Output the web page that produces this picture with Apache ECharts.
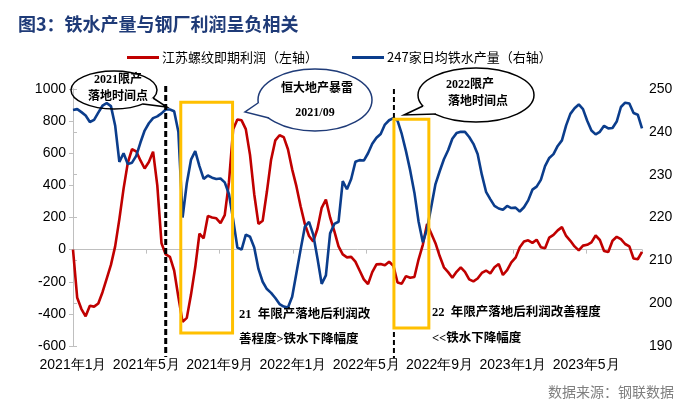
<!DOCTYPE html>
<html><head><meta charset="utf-8">
<script src="https://cdn.jsdelivr.net/npm/echarts@6/dist/echarts.min.js"></script>
<style>html,body{margin:0;padding:0;background:#fff}#c{width:689px;height:414px}</style>
</head><body><div id="c"></div>
<script>
// ---- data (weekly, starting 2021-01-01) ----
const startDate = '2021-01-01';
const seriesNames = ['江苏螺纹即期利润（左轴）', '247家日均铁水产量（右轴）'];
const tickLabels = ['2021年1月','2021年5月','2021年9月','2022年1月','2022年5月','2022年9月','2023年1月','2023年5月'];
const profit = [0,-300,-370,-415,-350,-355,-335,-265,-180,-95,
 20,190,380,540,625,612,555,505,545,610,
 400,40,-30,-45,-130,-295,-450,-425,-280,-110,
 100,70,210,200,195,165,215,420,750,810,
 805,750,590,345,160,180,360,560,680,712,
 700,625,500,395,270,160,85,50,130,260,
 312,200,115,20,-30,-48,-45,-75,-130,-185,
 -215,-140,-92,-90,-98,-76,-100,-205,-212,-165,
 -175,-170,-60,30,160,100,40,-40,-110,-140,
 -175,-138,-110,-138,-185,-198,-180,-145,-130,-148,
 -110,-90,-158,-128,-80,-50,15,50,58,42,
 62,15,8,75,92,120,140,85,55,20,
 -5,25,30,45,88,60,-8,-15,55,80,
 65,35,20,-55,-60,-14];
const hotMetal = [245.1,245.3,244.6,243.8,242.3,242.8,244.5,246.1,246.7,246.0,
 241.5,233.0,235.0,232.5,232.8,234.4,237.5,240.3,242.0,243.2,
 243.6,244.3,245.2,245.2,244.8,240.0,220.0,228.0,233.5,235.5,
 232.0,229.0,229.8,229.3,229.0,229.1,228.2,225.5,219.5,213.0,
 212.5,216.0,215.5,213.0,208.0,205.0,203.3,202.4,201.2,199.8,
 199.2,199.0,201.5,207.0,212.5,217.8,219.0,216.0,210.5,204.5,
 206.5,216.3,218.5,219.0,228.5,226.6,229.0,233.0,233.4,233.3,
 235.0,237.2,238.6,239.5,241.7,242.7,243.2,242.6,239.5,235.5,
 231.0,225.8,219.0,214.2,217.3,222.5,227.8,230.8,233.6,235.7,
 238.4,239.7,240.0,240.0,238.8,237.2,234.8,230.0,226.0,224.3,
 222.7,222.1,221.8,222.7,222.2,222.3,221.4,222.4,224.0,226.5,
 227.2,228.8,232.0,233.9,234.8,236.7,238.0,241.5,244.2,245.5,
 246.4,245.3,242.6,240.3,239.4,240.0,241.4,240.8,240.9,242.4,
 245.8,246.8,246.6,244.4,244.0,240.8];
// annotation events
const limitDates = ['2021-06-04', '2022-06-18'];
const boxes = [
  {from:'2021-06-29', to:'2021-09-23', top:917, bottom:-519},
  {from:'2022-06-18', to:'2022-08-15', top:812, bottom:-488}
];

// ---- helpers ----
const DAY = 86400000, MONTH_DAYS = 30.4375;
const t0 = Date.parse(startDate);
const toMonth = d => (Date.parse(d) - t0) / DAY / MONTH_DAYS;
const xs = profit.map((_, i) => i * 7 / MONTH_DAYS);
const xMax = xs[xs.length - 1];
const redData = profit.map((v, i) => [xs[i], v]);
const blueData = hotMetal.map((v, i) => [xs[i], v]);

const RED = '#c00000', BLUE = '#0b3d8c', GOLD = '#ffc000', AX = '#bfbfbf';
const numFont = "'Liberation Sans Narrow','Liberation Sans',Arial,sans-serif";
const cjk = "'Noto Sans CJK SC','Liberation Sans',sans-serif";
const serifCjk = "'Liberation Serif','Noto Sans CJK SC',serif";

const chart = echarts.init(document.getElementById('c'));
chart.setOption({
  animation: false,
  backgroundColor: '#fff',
  title: {text: '图3：铁水产量与钢厂利润呈负相关', left: 13, top: 10,
    textStyle: {fontSize: 18, fontWeight: 'bold', color: '#1f3b78', fontFamily: cjk}},
  legend: {left: 122, top: 46, itemWidth: 32, itemHeight: 3, itemGap: 34, icon: 'rect',
    textStyle: {fontSize: 13, color: '#000', fontFamily: cjk, padding: [0,0,0,-2]},
    data: seriesNames},
  grid: {left: 73, right: 47, top: 89, bottom: 68},
  xAxis: [
    {type: 'value', min: 0, max: xMax, interval: 4,
     axisLine: {onZero: true, lineStyle: {color: AX, width: 1}},
     axisTick: {show: true, length: 4, lineStyle: {color: AX}},
     axisLabel: {show: false}, splitLine: {show: false}},
    {type: 'value', min: 0, max: xMax, interval: 4, position: 'bottom',
     axisLine: {show: false, onZero: false}, axisTick: {show: false}, splitLine: {show: false},
     axisLabel: {show: true, margin: 12, fontSize: 14, color: '#000', fontFamily: numFont,
       showMaxLabel: false,
       formatter: v => { const k = Math.round(v / 4); return Math.abs(v - k*4) < 1e-6 ? (tickLabels[k] || '') : ''; }}}
  ],
  yAxis: [
    {type: 'value', min: -600, max: 1000, interval: 200, position: 'left',
     axisLine: {show: true, lineStyle: {color: AX}},
     axisTick: {show: true, length: 4, lineStyle: {color: AX}},
     splitLine: {show: false},
     axisLabel: {fontSize: 14, color: '#000', margin: 7, fontFamily: numFont, formatter: v => String(v)}},
    {type: 'value', min: 190, max: 250, interval: 10, position: 'right',
     axisLine: {show: true, lineStyle: {color: AX}},
     axisTick: {show: true, length: 4, lineStyle: {color: AX}},
     splitLine: {show: false},
     axisLabel: {fontSize: 14, color: '#000', margin: 7, fontFamily: numFont, formatter: v => String(v)}}
  ],
  series: [
    {name: seriesNames[0], type: 'line', xAxisIndex: 0, yAxisIndex: 0, data: redData,
     symbol: 'none', lineStyle: {color: RED, width: 2.6}, itemStyle: {color: RED}, z: 2},
    {name: seriesNames[1], type: 'line', xAxisIndex: 0, yAxisIndex: 1, data: blueData,
     symbol: 'none', lineStyle: {color: BLUE, width: 2.6}, itemStyle: {color: BLUE}, z: 3}
  ]
});

// ---- annotations positioned via axis scales ----
const px = (m, v) => chart.convertToPixel({xAxisIndex: 0, yAxisIndex: 0}, [m, v]);
const g = [];
const l1 = px(toMonth(limitDates[0]), 0)[0];
const l2 = px(toMonth(limitDates[1]), 0)[0];
g.push({type: 'line', z: 50, shape: {x1: l1, y1: 86, x2: l1, y2: 357},
  style: {stroke: '#000', lineWidth: 3, lineDash: [6, 3]}});
g.push({type: 'line', z: 50, shape: {x1: l2, y1: 89, x2: l2, y2: 118},
  style: {stroke: '#000', lineWidth: 2, lineDash: [5, 3]}});
g.push({type: 'line', z: 50, shape: {x1: l2, y1: 332, x2: l2, y2: 358},
  style: {stroke: '#000', lineWidth: 2, lineDash: [5, 3]}});
boxes.forEach(b => {
  const a = px(toMonth(b.from), b.top), c = px(toMonth(b.to), b.bottom);
  g.push({type: 'rect', z: 60, shape: {x: a[0], y: a[1], width: c[0] - a[0], height: c[1] - a[1]},
    style: {fill: 'none', stroke: GOLD, lineWidth: 3}});
});
function bubble(cx, cy, rx, ry, tail, color) {
  g.push({type: 'ellipse', z: 70, shape: {cx, cy, rx, ry}, style: {fill: 'none', stroke: color, lineWidth: 1.5}});
  g.push({type: 'polygon', z: 71, shape: {points: [tail[0], tail[1], tail[2], [ (tail[0][0]+tail[2][0])/2 + (cx - (tail[0][0]+tail[2][0])/2)*0.15, (tail[0][1]+tail[2][1])/2 + (cy - (tail[0][1]+tail[2][1])/2)*0.15 ]]},
    style: {fill: '#fff', stroke: 'none'}});
  g.push({type: 'polyline', z: 72, shape: {points: tail}, style: {fill: 'none', stroke: color, lineWidth: 1.5}});
}
bubble(114, 90, 43, 19, [[153, 98], [167, 107], [143, 104]], '#000');
bubble(315, 100, 57, 31, [[258, 103], [245, 112], [269, 118]], '#1f3b78');
bubble(476, 95, 58, 27, [[423, 106], [404, 115], [436, 114]], '#000');
const txt = (x, y, s, size) => g.push({type: 'text', z: 80, x, y,
  style: {text: s, fontSize: size || 12, fontWeight: 'bold', fill: '#000', fontFamily: serifCjk,
    textAlign: 'center', textVerticalAlign: 'middle'}});
txt(118, 80, '2021限产', 12);
txt(118, 97, '落地时间点', 12);
txt(317, 89, '恒大地产暴雷', 12);
txt(315, 113, '2021/09', 12);
txt(470, 85, '2022限产', 12);
txt(478, 102, '落地时间点', 12);
function ltxt(x, y, s) {
  g.push({type: 'text', z: 80, x, y, style: {text: s, fontSize: 12.5, fontWeight: 'bold', fill: '#000',
    fontFamily: serifCjk, textAlign: 'left', textVerticalAlign: 'middle'}});
}
ltxt(239, 315, '21  年限产落地后利润改');
ltxt(239, 340, '善程度>铁水下降幅度');
ltxt(432, 313, '22  年限产落地后利润改善程度');
ltxt(432, 339, '<<铁水下降幅度');
g.push({type: 'text', z: 80, x: 548, y: 392, style: {text: '数据来源：钢联数据', fontSize: 14, fill: '#7f7f7f',
  fontFamily: cjk, textAlign: 'left', textVerticalAlign: 'middle'}});
chart.setOption({graphic: g});
</script></body></html>
